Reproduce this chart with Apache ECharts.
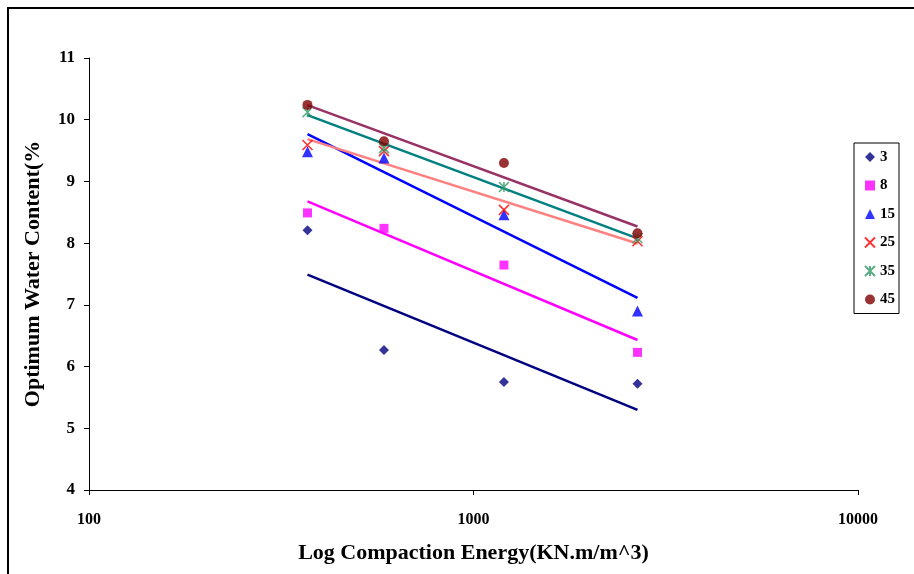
<!DOCTYPE html>
<html>
<head>
<meta charset="utf-8">
<script src="https://cdn.jsdelivr.net/npm/echarts@6/dist/echarts.min.js"></script>
<style>
html, body { margin: 0; padding: 0; background: #fff; }
#chart { width: 914px; height: 574px; }
</style>
</head>
<body>
<div id="chart"></div>
<script>
// Compaction energy levels (kN.m/m^3)
const energy = [370, 585, 1200, 2670];

// Series names (legend labels)
const seriesNames = ['3', '8', '15', '25', '35', '45'];

// Optimum water content (%) for each series at each energy level
const owc3  = [8.21, 6.27, 5.75, 5.72];
const owc8  = [8.49, 8.24, 7.645, 6.23];
const owc15 = [9.48, 9.38, 8.46, 6.90];
const owc25 = [9.59, 9.49, 8.54, 8.03];
const owc35 = [10.12, 9.54, 8.91, 8.08];
const owc45 = [10.24, 9.65, 9.30, 8.16];

const yTicks = [4, 5, 6, 7, 8, 9, 10, 11];
const xTicks = [100, 1000, 10000];

const allValues = [owc3, owc8, owc15, owc25, owc35, owc45];

const markerColors = ['#000080', '#FF00FF', '#0000FF', '#FF0000', '#339966', '#800000'];
const lineColors   = ['#000080', '#FF00FF', '#0000FF', '#FF8080', '#008080', '#993366'];

const xMark = 'path://M0,0L10,10M10,0L0,10';
const starMark = 'path://M5,0L5,10M0,0L10,10M10,0L0,10';
const symbols = ['diamond', 'rect', 'triangle', xMark, starMark, 'circle'];
const sizes = [10, 9, 11, 10, 10, 10];

// Logarithmic least-squares trend: y = a + b*log10(x)
function logTrend(xs, ys) {
  const lx = xs.map(v => Math.log10(v));
  const n = lx.length;
  const mx = lx.reduce((s, v) => s + v, 0) / n;
  const my = ys.reduce((s, v) => s + v, 0) / n;
  let sxy = 0, sxx = 0;
  for (let i = 0; i < n; i++) {
    sxy += (lx[i] - mx) * (ys[i] - my);
    sxx += (lx[i] - mx) * (lx[i] - mx);
  }
  const b = sxy / sxx;
  const a = my - b * mx;
  const x0 = Math.min(...xs), x1 = Math.max(...xs);
  return [[x0, a + b * Math.log10(x0)], [x1, a + b * Math.log10(x1)]];
}

const series = [];
allValues.forEach((vals, i) => {
  series.push({
    name: seriesNames[i] + ' trend',
    type: 'line',
    data: logTrend(energy, vals),
    showSymbol: false,
    symbol: 'none',
    lineStyle: { color: lineColors[i], width: 2.5 },
    z: 2,
    silent: true
  });
});
allValues.forEach((vals, i) => {
  const stroked = i === 3 || i === 4;
  series.push({
    name: seriesNames[i],
    type: 'scatter',
    data: energy.map((e, k) => [e, vals[k]]),
    symbol: symbols[i],
    symbolSize: sizes[i],
    itemStyle: stroked
      ? { color: 'rgba(0,0,0,0)', borderColor: markerColors[i], borderWidth: 1.6 }
      : { color: markerColors[i] },
    z: 3
  });
});

const font = 'Liberation Serif';

const chart = echarts.init(document.getElementById('chart'));
chart.setOption({
  animation: false,
  backgroundColor: '#fff',
  textStyle: { fontFamily: font, fontWeight: 'bold', color: '#000' },
  graphic: [{
    type: 'rect',
    shape: { x: 8, y: 8, width: 1000, height: 1000 },
    style: { fill: 'none', stroke: '#000', lineWidth: 2 },
    silent: true
  }],
  grid: { left: 89, right: 56, top: 58, bottom: 84 },
  legend: {
    data: seriesNames,
    orient: 'vertical',
    left: 854,
    top: 143,
    padding: [6, 4, 6, 10],
    itemGap: 12.5,
    itemWidth: 10,
    itemHeight: 10,
    borderColor: '#000',
    borderWidth: 1,
    textStyle: { fontFamily: font, fontWeight: 'bold', fontSize: 15, color: '#000', lineHeight: 16 }
  },
  xAxis: {
    type: 'log',
    logBase: 10,
    min: 100,
    max: 10000,
    name: 'Log Compaction Energy(KN.m/m^3)',
    nameLocation: 'middle',
    nameGap: 52,
    nameMoveOverlap: false,
    nameTextStyle: { fontFamily: font, fontWeight: 'bold', fontSize: 22, color: '#000' },
    axisLine: { lineStyle: { color: '#000', width: 1 } },
    axisTick: { show: true, length: 5, lineStyle: { color: '#000' } },
    minorTick: { show: false },
    splitLine: { show: false },
    axisLabel: {
      margin: 22,
      fontFamily: font, fontWeight: 'bold', fontSize: 16, color: '#000',
      formatter: v => (xTicks.indexOf(Math.round(v)) >= 0 ? String(Math.round(v)) : '')
    }
  },
  yAxis: {
    type: 'value',
    min: yTicks[0],
    max: yTicks[yTicks.length - 1],
    interval: 1,
    name: 'Optimum Water Content(%',
    nameLocation: 'middle',
    nameGap: 45,
    nameMoveOverlap: false,
    nameTextStyle: { fontFamily: font, fontWeight: 'bold', fontSize: 22, color: '#000' },
    axisLine: { show: true, lineStyle: { color: '#000', width: 1 } },
    axisTick: { show: true, length: 5, lineStyle: { color: '#000' } },
    splitLine: { show: false },
    axisLabel: { margin: 14, fontFamily: font, fontWeight: 'bold', fontSize: 17, color: '#000' }
  },
  series: series
});
</script>
</body>
</html>
